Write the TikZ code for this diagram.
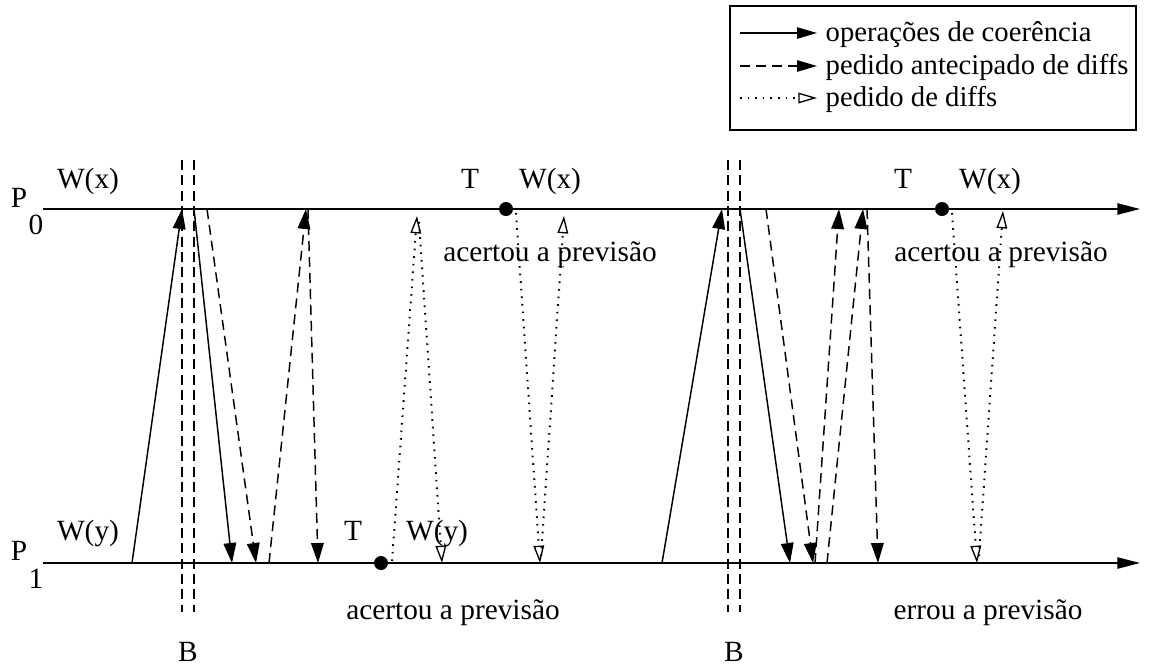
\documentclass[tikz,border=0pt]{standalone}
\usepackage{fontspec}
\setmainfont{Liberation Serif}
\usetikzlibrary{arrows.meta}
\begin{document}
\begin{tikzpicture}[x=0.75pt,y=-0.75pt,line width=1.1pt,
  coh/.style={-{Triangle[length=15pt,width=9.5pt]}},
  ant/.style={dash pattern=on 7.5pt off 4.5pt,-{Triangle[length=15pt,width=9.5pt]}},
  dif/.style={line width=1.5pt,dash pattern=on 1.2pt off 4.5pt,-{Triangle[open,length=13pt,width=8pt,line width=1pt]}},
  lcoh/.style={-{Triangle[length=15pt,width=8.5pt]}},
  lant/.style={dash pattern=on 7.5pt off 4.5pt,-{Triangle[length=15pt,width=8.5pt]}},
  ldif/.style={line width=1.5pt,dash pattern=on 1.2pt off 4.5pt,-{Triangle[open,length=14pt,width=8pt,line width=1pt]}},
  bar/.style={dash pattern=on 7.5pt off 4pt},
  axis/.style={-{Triangle[length=17pt,width=8.5pt]}},
  lbl/.style={font=\fontsize{22}{26}\selectfont,anchor=base,inner sep=0pt},
  leg/.style={font=\fontsize{21.5}{25}\selectfont,anchor=base west,inner sep=0pt},
  dot/.style={circle,fill,inner sep=0pt,minimum size=10.5pt}]
\useasboundingbox (0,0) rectangle (1149,669);

% process axes
\coordinate (p0s) at (43,209);  \coordinate (p0e) at (1140,209);
\coordinate (p1s) at (43,563);  \coordinate (p1e) at (1140,563);
\draw[axis] (p0s) -- (p0e);
\draw[axis] (p1s) -- (p1e);
\node[lbl] (P0) at (19,207) {P};
\node[lbl] (P0s) at (36,234) {0};
\node[lbl] (P1) at (19,560) {P};
\node[lbl] (P1s) at (36,588) {1};

% barriers
\coordinate (b1at) at (182,160); \coordinate (b1ab) at (182,612);
\coordinate (b1bt) at (194,160); \coordinate (b1bb) at (194,612);
\coordinate (b2at) at (728,160); \coordinate (b2ab) at (728,612);
\coordinate (b2bt) at (740,160); \coordinate (b2bb) at (740,612);
\draw[bar] (b1at) -- (b1ab);
\draw[bar] (b1bt) -- (b1bb);
\draw[bar] (b2at) -- (b2ab);
\draw[bar] (b2bt) -- (b2bb);
\node[lbl] (B1) at (188,661) {B};
\node[lbl] (B2) at (734,661) {B};

% labels
\node[lbl] (wx1) at (88,188) {W(x)};
\node[lbl] (t1) at (470,188) {T};
\node[lbl] (wx2) at (550,188) {W(x)};
\node[lbl] (t2) at (903,188) {T};
\node[lbl] (wx3) at (990,188) {W(x)};
\node[lbl] (wy1) at (88,540) {W(y)};
\node[lbl] (t3) at (353,540) {T};
\node[lbl] (wy2) at (437,540) {W(y)};
\node[lbl] (ac1) at (550,261) {acertou a previsão};
\node[lbl] (ac2) at (1001,261) {acertou a previsão};
\node[lbl] (ac3) at (453,619) {acertou a previsão};
\node[lbl] (er1) at (988,619) {errou a previsão};

% dots
\node[dot] (d1) at (506,209) {};
\node[dot] (d2) at (381,563) {};
\node[dot] (d3) at (942,209) {};

% group 1 arrows
\coordinate (a1s) at (132,563); \coordinate (a1e) at (182,209);
\coordinate (a2s) at (194,209); \coordinate (a2e) at (232,563);
\coordinate (a3s) at (207,209); \coordinate (a3e) at (256,563);
\coordinate (a4s) at (269,563); \coordinate (a4e) at (306,209);
\coordinate (a5s) at (308,209); \coordinate (a5e) at (318,563);
\coordinate (a6s) at (392,561); \coordinate (a6e) at (417,216);
\coordinate (a7s) at (419,222); \coordinate (a7e) at (442,563);
\coordinate (a8s) at (516,213); \coordinate (a8e) at (540,563);
\coordinate (a9s) at (541,556); \coordinate (a9e) at (564,216);
\draw[coh] (a1s) -- (a1e);
\draw[coh] (a2s) -- (a2e);
\draw[ant] (a3s) -- (a3e);
\draw[ant] (a4s) -- (a4e);
\draw[ant] (a5s) -- (a5e);
\draw[dif] (a6s) -- (a6e);
\draw[dif] (a7s) -- (a7e);
\draw[dif] (a8s) -- (a8e);
\draw[dif] (a9s) -- (a9e);

% group 2 arrows
\coordinate (c1s) at (662,563); \coordinate (c1e) at (722,209);
\coordinate (c2s) at (740,209); \coordinate (c2e) at (790,563);
\coordinate (c3s) at (766,209); \coordinate (c3e) at (813,563);
\coordinate (c4s) at (815,563); \coordinate (c4e) at (839,209);
\coordinate (c5s) at (827,563); \coordinate (c5e) at (863,209);
\coordinate (c6s) at (867,209); \coordinate (c6e) at (878,563);
\coordinate (c7s) at (952,213); \coordinate (c7e) at (977,563);
\coordinate (c8s) at (979,556); \coordinate (c8e) at (1003,211);
\draw[coh] (c1s) -- (c1e);
\draw[coh] (c2s) -- (c2e);
\draw[ant] (c3s) -- (c3e);
\draw[ant] (c4s) -- (c4e);
\draw[ant] (c5s) -- (c5e);
\draw[ant] (c6s) -- (c6e);
\draw[dif] (c7s) -- (c7e);
\draw[dif] (c8s) -- (c8e);

% legend
\coordinate (lg1) at (730,6); \coordinate (lg2) at (1136,130);
\draw[line width=1pt] (lg1) rectangle (lg2);
\coordinate (l1s) at (740,33); \coordinate (l1e) at (817,33);
\coordinate (l2s) at (740,66); \coordinate (l2e) at (817,66);
\coordinate (l3s) at (740,98); \coordinate (l3e) at (817,98);
\draw[lcoh] (l1s) -- (l1e);
\draw[lant] (l2s) -- (l2e);
\draw[ldif] (l3s) -- (l3e);
\node[leg] (lt1) at (825,41) {operações de coerência};
\node[leg] (lt2) at (825,74) {pedido antecipado de diffs};
\node[leg] (lt3) at (825,106) {pedido de diffs};
\end{tikzpicture}
\end{document}
